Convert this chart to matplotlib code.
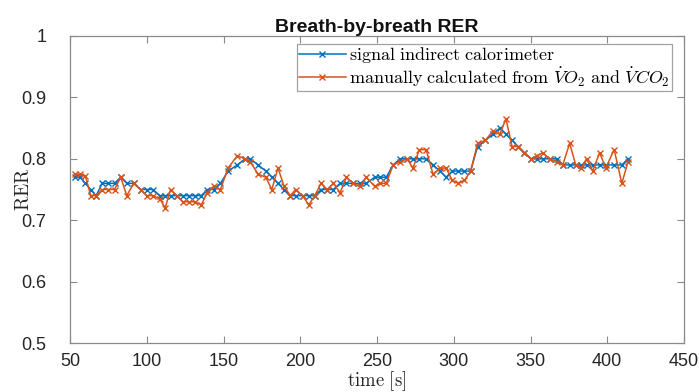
import matplotlib
matplotlib.use("Agg")
import matplotlib.pyplot as plt

# Breath times [s]
time_s = [53.0, 56.5, 60.0, 63.5, 67.0, 71.0, 75.0, 79.0, 83.0, 87.0,
          91.5, 96.0, 100.0, 104.0, 108.5, 112.0, 115.5, 119.5, 123.5, 127.5,
          131.5, 135.5, 139.5, 143.5, 148.0, 153.0, 159.0, 164.0, 167.5, 172.5,
          177.5, 181.5, 185.5, 189.5, 193.5, 197.0, 201.5, 205.5, 209.5, 213.5,
          217.5, 221.5, 226.0, 230.0, 234.5, 239.0, 243.0, 248.5, 252.0, 256.0,
          260.5, 265.0, 269.5, 273.5, 277.5, 282.0, 286.5, 291.0, 295.0, 299.0,
          303.0, 307.0, 311.0, 315.5, 320.5, 325.5, 330.0, 334.0, 338.0, 342.0,
          346.0, 350.5, 354.0, 358.0, 362.5, 367.0, 371.0, 375.5, 379.5, 383.0,
          386.5, 390.5, 395.0, 399.0, 404.5, 409.5, 413.5]

# RER from the indirect calorimeter
rer_signal = [0.77, 0.77, 0.76, 0.75, 0.74, 0.76, 0.76, 0.76, 0.77, 0.76,
              0.76, 0.75, 0.75, 0.75, 0.74, 0.74, 0.74, 0.74, 0.74, 0.74,
              0.74, 0.74, 0.75, 0.75, 0.76, 0.78, 0.79, 0.80, 0.80, 0.79,
              0.78, 0.77, 0.76, 0.75, 0.74, 0.74, 0.74, 0.74, 0.74, 0.75,
              0.75, 0.75, 0.76, 0.76, 0.76, 0.76, 0.76, 0.77, 0.77, 0.77,
              0.79, 0.80, 0.80, 0.80, 0.80, 0.80, 0.79, 0.78, 0.77, 0.78,
              0.78, 0.78, 0.78, 0.82, 0.83, 0.84, 0.85, 0.84, 0.83, 0.82,
              0.81, 0.80, 0.80, 0.80, 0.80, 0.80, 0.79, 0.79, 0.79, 0.79,
              0.79, 0.79, 0.79, 0.79, 0.79, 0.79, 0.80]

# RER computed by hand from VO2 and VCO2
rer_manual = [0.775, 0.775, 0.772, 0.74, 0.74, 0.75, 0.75, 0.75, 0.77, 0.74,
              0.76, 0.75, 0.74, 0.74, 0.735, 0.72, 0.75, 0.74, 0.73, 0.73,
              0.73, 0.725, 0.745, 0.755, 0.75, 0.785, 0.805, 0.80, 0.795, 0.775,
              0.77, 0.75, 0.785, 0.755, 0.74, 0.75, 0.74, 0.725, 0.74, 0.76,
              0.75, 0.76, 0.745, 0.77, 0.76, 0.755, 0.77, 0.755, 0.76, 0.76,
              0.79, 0.795, 0.80, 0.785, 0.815, 0.815, 0.775, 0.785, 0.785, 0.765,
              0.76, 0.765, 0.78, 0.825, 0.83, 0.845, 0.84, 0.865, 0.82, 0.82,
              0.81, 0.80, 0.805, 0.81, 0.80, 0.795, 0.79, 0.825, 0.79, 0.785,
              0.80, 0.78, 0.81, 0.785, 0.815, 0.76, 0.795]

x_ticks = [50, 100, 150, 200, 250, 300, 350, 400, 450]
y_ticks = [0.5, 0.6, 0.7, 0.8, 0.9, 1.0]
y_tick_labels = ["0.5", "0.6", "0.7", "0.8", "0.9", "1"]

plt.rcParams["font.family"] = ["Liberation Sans", "DejaVu Sans"]
plt.rcParams["mathtext.fontset"] = "cm"

W, H = 699, 392
fig = plt.figure(figsize=(W / 100, H / 100), dpi=100)
left_px, right_px, top_px, bottom_px = 70, 684, 36, 343
ax = fig.add_axes([left_px / W, 1 - bottom_px / H,
                   (right_px - left_px) / W, (bottom_px - top_px) / H])

blue = "#0072BD"
orange = "#D95319"
ax.plot(time_s, rer_signal, color=blue, marker="x", markersize=5,
        linewidth=1.1, markeredgewidth=1.0,
        label=r"$\mathrm{signal\ indirect\ calorimeter}$")
ax.plot(time_s, rer_manual, color=orange, marker="x", markersize=5,
        linewidth=1.1, markeredgewidth=1.0,
        label=r"$\mathrm{manually\ calculated\ from\ }\dot{V}O_2\mathrm{\ and\ }\dot{V}CO_2$")

ax.set_xlim(50, 450)
ax.set_ylim(0.5, 1.0)
ax.set_xticks(x_ticks)
ax.set_yticks(y_ticks)
ax.set_yticklabels(y_tick_labels)

axis_color = "#8a8a8a"
for side in ax.spines.values():
    side.set_color(axis_color)
    side.set_linewidth(0.9)
ax.tick_params(direction="in", top=True, right=True, length=5,
               color=axis_color, labelsize=13, labelcolor="#262626")
ax.tick_params(axis="x", pad=7)
ax.tick_params(axis="y", pad=17)

ax.set_title("Breath-by-breath RER", fontsize=14, fontweight="bold",
             color="#111111", pad=3)
ax.set_xlabel(r"$\mathrm{time\ [s]}$", fontsize=13.5, color="#262626")
ax.set_ylabel(r"$\mathrm{RER}$", fontsize=14, color="#262626")
ax.xaxis.set_label_coords(0.5, -(369 - bottom_px) / (bottom_px - top_px))
ax.yaxis.set_label_coords(-(left_px - 33) / (right_px - left_px), 0.5)

leg = ax.legend(loc="upper right", bbox_to_anchor=(0.98, 0.975), fontsize=13,
                frameon=True, fancybox=False, borderpad=0.1,
                handlelength=2.6, handletextpad=0.2, labelspacing=0.0,
                borderaxespad=0.0)
leg.get_frame().set_edgecolor(axis_color)
leg.get_frame().set_linewidth(0.9)

fig.savefig("out.png", dpi=100)
